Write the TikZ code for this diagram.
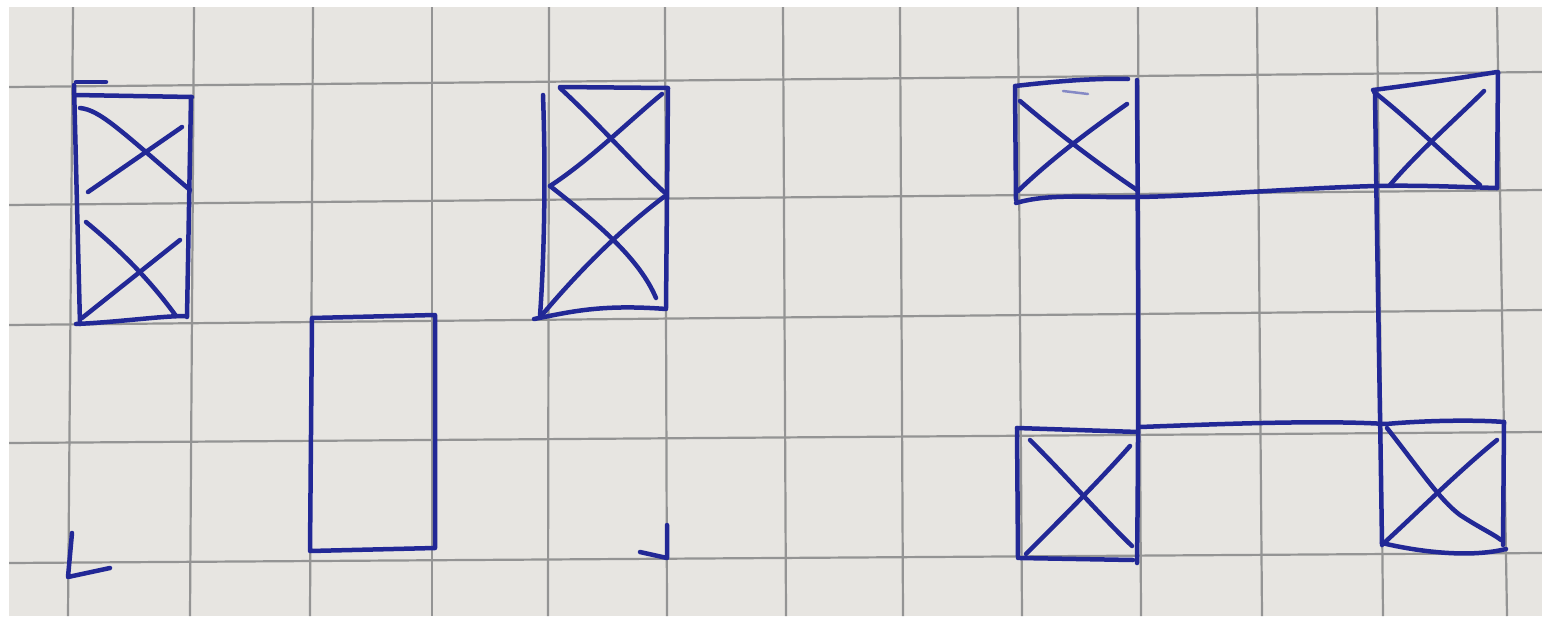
\documentclass[tikz,border=0pt]{standalone}
\definecolor{paper}{RGB}{231,229,225}
\definecolor{gridgray}{RGB}{148,148,148}
\definecolor{inkblue}{RGB}{34,40,150}
\begin{document}
\begin{tikzpicture}[x=1pt,y=-1pt,
  ink/.style={draw=inkblue,line width=4.5pt,line cap=round,line join=round},
  faint ink/.style={draw=inkblue!55,line width=2.5pt,line cap=round},
  gridline/.style={draw=gridgray,line width=2.2pt}]
\useasboundingbox (0,0) rectangle (1542,616);
\fill[white] (0,0) rectangle (1542,616);
\fill[paper] (9,7) rectangle (1542,616);
\begin{scope}
\clip (9,7) rectangle (1542,616);
\foreach \a/\b in {73/68,194/190,313/310,432/432,549/548,665/667,783/786,900/903,1018/1022,1138/1141,1257/1262,1377/1383,1497/1507}
  \draw[gridline] (\a,7) -- (\b,616);
\foreach \a/\b in {87/72,205/190,325/310,443/432,563/553}
  \draw[gridline] (9,\a) -- (1542,\b);
\end{scope}
% figure 1: two crossed cells stacked
\draw[ink] (74,85) -- (80,324);
\draw[ink] (75,95) -- (192,97);
\draw[ink] (191,97) -- (187,317);
\draw[ink] (76,324) .. controls (120,322) and (160,316) .. (186,316);
\draw[ink] (76,82) -- (106,82);
\draw[ink] (80,108) .. controls (100,110) and (120,130) .. (190,190);
\draw[ink] (88,192) -- (182,127);
\draw[ink] (86,222) .. controls (120,250) and (150,280) .. (176,316);
\draw[ink] (82,318) -- (180,240);
% figure 2: empty rectangle
\draw[ink] (312,318) -- (435,315) -- (435,548) -- (310,551) -- cycle;
% figure 3: two crossed cells stacked
\draw[ink] (543,95) .. controls (546,180) and (544,260) .. (540,316);
\draw[ink] (560,87) -- (668,88) -- (666,308);
\draw[ink] (534,319) .. controls (570,312) and (600,304) .. (666,309);
\draw[ink] (560,88) .. controls (600,125) and (630,160) .. (664,192);
\draw[ink] (550,186) .. controls (590,160) and (630,120) .. (662,94);
\draw[ink] (550,186) .. controls (600,225) and (640,260) .. (656,298);
\draw[ink] (542,315) .. controls (580,270) and (620,230) .. (665,196);
% figure 4: four crossed cells joined by lines
% top-left cell
\draw[ink] (1015,87) -- (1016,200);
\draw[ink] (1015,86) .. controls (1050,82) and (1090,78) .. (1128,79);
\draw[ink] (1016,203) .. controls (1050,193) and (1090,198) .. (1138,197)
  .. controls (1200,196) and (1300,188) .. (1376,186)
  .. controls (1420,185) and (1460,187) .. (1497,188);
\draw[faint ink] (1063,91) -- (1088,94);
\draw[ink] (1020,101) .. controls (1060,135) and (1100,165) .. (1137,190);
\draw[ink] (1018,191) .. controls (1050,160) and (1090,130) .. (1127,104);
% long verticals
\draw[ink] (1137,80) .. controls (1138,250) and (1139,400) .. (1137,563);
\draw[ink] (1375,92) .. controls (1377,250) and (1380,400) .. (1382,545);
% top-right cell
\draw[ink] (1373,90) .. controls (1420,84) and (1460,78) .. (1497,72);
\draw[ink] (1498,72) -- (1497,188);
\draw[ink] (1374,92) .. controls (1410,120) and (1450,160) .. (1480,185);
\draw[ink] (1390,185) .. controls (1420,150) and (1460,115) .. (1484,91);
% bottom-left cell
\draw[ink] (1017,428) -- (1018,558);
\draw[ink] (1017,428) -- (1138,432);
\draw[ink] (1020,558) -- (1133,560);
\draw[ink] (1030,440) .. controls (1070,480) and (1100,515) .. (1132,546);
\draw[ink] (1026,554) .. controls (1060,520) and (1100,480) .. (1130,446);
% bottom-right cell and lower connector
\draw[ink] (1140,427) .. controls (1220,424) and (1320,420) .. (1386,424)
  .. controls (1430,420) and (1480,420) .. (1504,422);
\draw[ink] (1504,422) -- (1503,545);
\draw[ink] (1382,543) .. controls (1420,552) and (1470,558) .. (1506,549);
\draw[ink] (1387,428) .. controls (1420,470) and (1440,500) .. (1460,515)
  .. controls (1480,528) and (1495,535) .. (1501,540);
\draw[ink] (1384,543) .. controls (1420,510) and (1460,470) .. (1497,440);
% small marks along the bottom
\draw[ink] (72,533) -- (68,577) -- (110,568);
\draw[ink] (667,525) -- (667,558) -- (640,552);
\end{tikzpicture}
\end{document}
